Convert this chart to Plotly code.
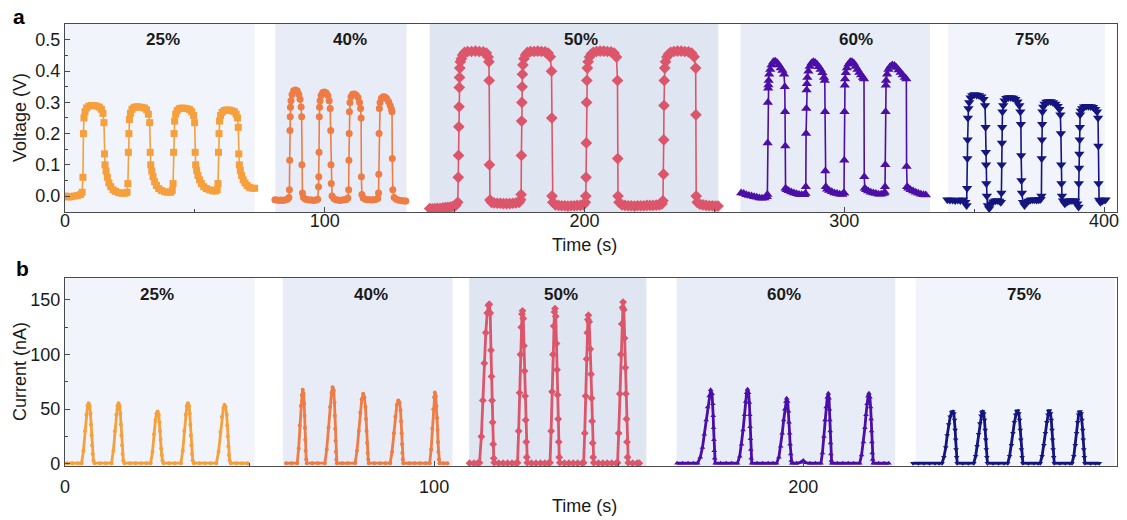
import plotly.graph_objects as go

# ---------------- conditions and styling ----------------
CONDITIONS = ["25%", "40%", "50%", "60%", "75%"]
COLORS = ["#F5A03C", "#EE7C45", "#DC566B", "#4B0FA7", "#15157F"]
SYMBOLS = ["square", "circle", "diamond", "triangle-up", "triangle-down"]
BAND_FILL = ["#F1F4FA", "#E8ECF6", "#DFE5F1", "#E8ECF6", "#F1F4FA"]

# time windows (s) of each humidity condition
V_BANDS = [(0, 73), (81, 131.5), (140.4, 251.5), (260, 333), (340, 400.4)]
I_BANDS = [(0, 51.4), (59, 105), (109.5, 157.5), (165.7, 224.9), (230.5, 284.3)]
V_LABEL_T = [37.7, 109.6, 198.8, 304.6, 372.3]
I_LABEL_T = [24.8, 82.9, 134.5, 194.9, 259.7]

# ---------------- (a) output voltage, (t [s], V [V]) ----------------
VOLT_25 = [
    (0, 0.0), (1.2, -0.003), (2.4, -0.002), (3.6, 0.0), (4.8, 0.002), (6.0, 0.005), (6.6, 0.012),
    (6.9, 0.06), (7.1, 0.20), (7.3, 0.25), (7.7, 0.27), (8.3, 0.282), (9.2, 0.288), (10.2, 0.29),
    (11.2, 0.29), (12.2, 0.288), (13.2, 0.285), (14.0, 0.278), (14.6, 0.265),
    (15.0, 0.235), (15.2, 0.135), (15.4, 0.10), (15.8, 0.08), (16.3, 0.06), (16.9, 0.042),
    (17.6, 0.03), (18.5, 0.02), (19.5, 0.015), (20.7, 0.011), (21.9, 0.009), (23.1, 0.009), (23.9, 0.012),
    (24.2, 0.04), (24.4, 0.14), (24.6, 0.20), (24.8, 0.245), (25.2, 0.265), (25.8, 0.278), (26.6, 0.284),
    (27.6, 0.286), (28.6, 0.285), (29.6, 0.284), (30.6, 0.282), (31.4, 0.276), (32.1, 0.262),
    (32.6, 0.235), (32.8, 0.14), (33.0, 0.10), (33.4, 0.08), (33.9, 0.062), (34.5, 0.046),
    (35.2, 0.034), (36.1, 0.024), (37.1, 0.018), (38.3, 0.014), (39.5, 0.012), (40.7, 0.012), (41.3, 0.018),
    (41.6, 0.04), (41.8, 0.14), (42.0, 0.20), (42.2, 0.24), (42.6, 0.262), (43.2, 0.274), (44.0, 0.28),
    (45.0, 0.282), (46.0, 0.281), (47.0, 0.28), (48.0, 0.277), (48.8, 0.27), (49.5, 0.258),
    (49.9, 0.235), (50.1, 0.14), (50.3, 0.10), (50.7, 0.082), (51.2, 0.066), (51.8, 0.052),
    (52.5, 0.04), (53.4, 0.03), (54.4, 0.024), (55.6, 0.02), (56.8, 0.017), (57.9, 0.016), (58.6, 0.02),
    (58.9, 0.04), (59.1, 0.14), (59.3, 0.20), (59.5, 0.24), (59.9, 0.258), (60.5, 0.268), (61.3, 0.274),
    (62.3, 0.276), (63.3, 0.275), (64.3, 0.273), (65.2, 0.27), (65.9, 0.262), (66.4, 0.25),
    (66.7, 0.22), (66.9, 0.135), (67.1, 0.10), (67.5, 0.082), (68.0, 0.066), (68.6, 0.052),
    (69.3, 0.042), (70.1, 0.034), (71.0, 0.028), (72.0, 0.025), (73.0, 0.025),
]

VOLT_40 = [
    (80.8, -0.012), (81.6, -0.013), (82.4, -0.014), (83.2, -0.013), (84.0, -0.014), (84.8, -0.012),
    (85.6, -0.01), (86.2, -0.005),
    (86.4, 0.02), (86.5, 0.115), (86.6, 0.21), (86.7, 0.254), (86.8, 0.284), (87.0, 0.305), (87.4, 0.325),
    (88.0, 0.337), (88.7, 0.34), (89.4, 0.337), (90.0, 0.326), (90.5, 0.31), (90.9, 0.285),
    (91.1, 0.254), (91.2, 0.10), (91.4, 0.01), (91.8, -0.005), (92.6, -0.01), (93.4, -0.012),
    (94.2, -0.013), (95.0, -0.013), (95.8, -0.014), (96.6, -0.013), (97.3, -0.01),
    (97.6, 0.03), (97.7, 0.062), (97.8, 0.14), (97.9, 0.254), (98.0, 0.284), (98.2, 0.305), (98.6, 0.322),
    (99.2, 0.332), (99.9, 0.333), (100.6, 0.33), (101.2, 0.322), (101.7, 0.305), (102.1, 0.28),
    (102.3, 0.21), (102.4, 0.10), (102.5, 0.04), (102.8, 0.0), (103.5, -0.008), (104.3, -0.012),
    (105.1, -0.013), (105.9, -0.014), (106.7, -0.013), (107.5, -0.012), (108.3, -0.011), (108.9, -0.006),
    (109.2, 0.02), (109.3, 0.115), (109.4, 0.2), (109.5, 0.27), (109.7, 0.3), (110.1, 0.318),
    (110.7, 0.326), (111.4, 0.327), (112.1, 0.324), (112.8, 0.316), (113.4, 0.3), (113.8, 0.28),
    (114.0, 0.25), (114.1, 0.062), (114.3, 0.005), (114.8, -0.006), (115.6, -0.01), (116.4, -0.012),
    (117.2, -0.012), (118.0, -0.013), (118.8, -0.012), (119.6, -0.011), (120.4, -0.008),
    (120.7, 0.01), (120.8, 0.07), (120.9, 0.2), (121.0, 0.28), (121.3, 0.3), (121.8, 0.313),
    (122.5, 0.318), (123.2, 0.317), (123.9, 0.312), (124.6, 0.302), (125.2, 0.29), (125.7, 0.278),
    (125.9, 0.27), (126.0, 0.12), (126.2, 0.02), (126.7, -0.005), (127.5, -0.01), (128.3, -0.013),
    (129.1, -0.014), (129.9, -0.015), (130.7, -0.016), (131.2, -0.016),
]

VOLT_50 = [
    (140.4, -0.04), (141.4, -0.041), (142.4, -0.04), (143.4, -0.039), (144.4, -0.04), (145.4, -0.038),
    (146.4, -0.037), (147.4, -0.036), (148.4, -0.035), (149.4, -0.033), (150.4, -0.03), (151.2, -0.02),
    (151.4, 0.06), (151.5, 0.13), (151.6, 0.222), (151.7, 0.286), (151.8, 0.348), (151.9, 0.38),
    (152.0, 0.41), (152.2, 0.43), (152.6, 0.44), (153.1, 0.452), (153.8, 0.46), (155.0, 0.463),
    (156.5, 0.463), (158.0, 0.464), (159.5, 0.463), (161.0, 0.462), (162.2, 0.458), (162.9, 0.445),
    (163.2, 0.43), (163.3, 0.37), (163.4, 0.10), (163.6, -0.013), (164.2, -0.02), (165.2, -0.022),
    (166.4, -0.023), (167.6, -0.023), (168.8, -0.024), (170.0, -0.024), (171.2, -0.024), (172.4, -0.023),
    (173.6, -0.022), (174.8, -0.02), (175.4, -0.012),
    (175.6, 0.005), (175.7, 0.13), (175.8, 0.24), (175.9, 0.3), (176.0, 0.35), (176.1, 0.39),
    (176.3, 0.42), (176.7, 0.44), (177.3, 0.452), (178.0, 0.46), (179.2, 0.463), (180.6, 0.463),
    (182.0, 0.464), (183.4, 0.463), (184.8, 0.462), (186.0, 0.458), (186.8, 0.446),
    (187.3, 0.40), (187.4, 0.25), (187.5, 0.0), (187.8, -0.02), (188.8, -0.028), (190.0, -0.03),
    (191.2, -0.031), (192.4, -0.031), (193.6, -0.032), (194.8, -0.031), (196.0, -0.031), (197.2, -0.03),
    (198.4, -0.03), (199.6, -0.028), (200.3, -0.02),
    (200.5, 0.0), (200.6, 0.06), (200.7, 0.17), (200.8, 0.3), (200.9, 0.37), (201.1, 0.41),
    (201.4, 0.43), (201.9, 0.445), (202.6, 0.455), (203.4, 0.46), (204.6, 0.463), (206.0, 0.464),
    (207.4, 0.464), (208.8, 0.463), (210.2, 0.462), (211.4, 0.458), (212.3, 0.445),
    (212.7, 0.37), (212.8, 0.12), (212.9, 0.0), (213.3, -0.02), (214.4, -0.028), (215.6, -0.03),
    (216.8, -0.031), (218.0, -0.031), (219.2, -0.032), (220.4, -0.031), (221.6, -0.031), (222.8, -0.031),
    (224.0, -0.03), (225.2, -0.03), (226.4, -0.03), (227.6, -0.029), (228.8, -0.028), (229.8, -0.025),
    (230.2, -0.015),
    (230.4, 0.07), (230.5, 0.18), (230.6, 0.29), (230.7, 0.37), (230.9, 0.41), (231.2, 0.43),
    (231.7, 0.445), (232.4, 0.455), (233.2, 0.46), (234.4, 0.463), (235.8, 0.464), (237.2, 0.464),
    (238.6, 0.463), (240.0, 0.462), (241.2, 0.458), (242.2, 0.446),
    (242.8, 0.41), (242.9, 0.26), (243.0, 0.0), (243.4, -0.02), (244.4, -0.026), (245.6, -0.028),
    (246.8, -0.03), (248.0, -0.031), (249.2, -0.031), (250.4, -0.032), (251.4, -0.032),
]

VOLT_60 = [
    (260.3, 0.01), (261.3, 0.008), (262.3, 0.004), (263.3, 0.002), (264.3, 0.0), (265.3, -0.002),
    (266.3, -0.004), (267.3, -0.006), (268.3, -0.007), (269.3, -0.006), (270.2, -0.002),
    (270.4, 0.005), (270.5, 0.17), (270.6, 0.30), (270.7, 0.345), (270.8, 0.356), (270.9, 0.37),
    (271.1, 0.39), (271.5, 0.405), (272.0, 0.42), (272.7, 0.43), (273.4, 0.432), (274.1, 0.428),
    (274.8, 0.42), (275.5, 0.41), (276.2, 0.402), (276.8, 0.39),
    (277.1, 0.35), (277.2, 0.27), (277.3, 0.16), (277.4, 0.025), (277.8, 0.02), (278.6, 0.017),
    (279.6, 0.013), (280.6, 0.01), (281.6, 0.007), (282.6, 0.005), (283.6, 0.004), (284.6, 0.004),
    (285.1, 0.008),
    (285.2, 0.03), (285.3, 0.2), (285.4, 0.28), (285.5, 0.34), (285.6, 0.36), (285.8, 0.38),
    (286.2, 0.4), (286.7, 0.415), (287.4, 0.426), (288.1, 0.43), (288.8, 0.428), (289.5, 0.422),
    (290.2, 0.414), (290.9, 0.405), (291.6, 0.395), (292.2, 0.38),
    (292.5, 0.37), (292.6, 0.27), (292.7, 0.08), (292.9, 0.03), (293.4, 0.022), (294.2, 0.018),
    (295.2, 0.014), (296.2, 0.01), (297.2, 0.008), (298.2, 0.006), (299.2, 0.005), (299.8, 0.01),
    (299.9, 0.01), (300.0, 0.115), (300.1, 0.27), (300.2, 0.355), (300.3, 0.375), (300.6, 0.395),
    (301.0, 0.41), (301.6, 0.422), (302.3, 0.43), (303.0, 0.43), (303.7, 0.425), (304.4, 0.415),
    (305.1, 0.405), (305.8, 0.396), (306.5, 0.388), (307.2, 0.38),
    (307.6, 0.375), (307.7, 0.062), (307.9, 0.025), (308.4, 0.02), (309.2, 0.016), (310.2, 0.012),
    (311.2, 0.01), (312.2, 0.008), (313.2, 0.006), (314.2, 0.006), (315.2, 0.008), (315.6, 0.012),
    (315.7, 0.03), (315.8, 0.1), (315.9, 0.27), (316.0, 0.355), (316.1, 0.37), (316.5, 0.39),
    (317.0, 0.405), (317.7, 0.415), (318.5, 0.42), (319.3, 0.418), (320.1, 0.412), (320.9, 0.404),
    (321.7, 0.396), (322.5, 0.388), (323.3, 0.38),
    (323.9, 0.375), (324.0, 0.095), (324.2, 0.03), (324.7, 0.025), (325.5, 0.02), (326.5, 0.016),
    (327.5, 0.012), (328.5, 0.009), (329.5, 0.006), (330.5, 0.004), (331.4, 0.003),
]

VOLT_75 = [
    (339.7, -0.012), (340.7, -0.013), (341.7, -0.013), (342.7, -0.014), (343.7, -0.013), (344.7, -0.014),
    (345.7, -0.012), (346.6, -0.02), (347.1, -0.03),
    (347.3, 0.025), (347.4, 0.12), (347.5, 0.18), (347.6, 0.25), (347.8, 0.28), (348.1, 0.3),
    (348.6, 0.315), (349.3, 0.322), (350.1, 0.325), (351.0, 0.324), (351.9, 0.322), (352.8, 0.318),
    (353.6, 0.31), (354.2, 0.29),
    (354.4, 0.22), (354.5, 0.14), (354.6, 0.10), (354.7, 0.04), (354.9, 0.0), (355.3, -0.03),
    (355.8, -0.04), (356.5, -0.025), (357.3, -0.018), (358.1, -0.015), (358.9, -0.014), (359.7, -0.016),
    (360.3, -0.02),
    (360.5, 0.01), (360.6, 0.10), (360.7, 0.17), (360.8, 0.22), (360.9, 0.27), (361.2, 0.29),
    (361.7, 0.305), (362.4, 0.313), (363.2, 0.316), (364.1, 0.316), (365.0, 0.314), (365.9, 0.31),
    (366.7, 0.302), (367.4, 0.29), (367.8, 0.27),
    (368.0, 0.23), (368.1, 0.13), (368.2, 0.05), (368.4, 0.01), (368.8, -0.02), (369.4, -0.03),
    (370.1, -0.022), (370.9, -0.016), (371.7, -0.013), (372.5, -0.012), (373.3, -0.012), (374.1, -0.013),
    (374.9, -0.012), (375.6, -0.01),
    (375.9, 0.0), (376.0, 0.12), (376.1, 0.18), (376.2, 0.23), (376.3, 0.27), (376.6, 0.285),
    (377.1, 0.295), (377.8, 0.301), (378.6, 0.303), (379.5, 0.303), (380.4, 0.3), (381.3, 0.295),
    (382.1, 0.288), (382.8, 0.278), (383.2, 0.26),
    (383.4, 0.2), (383.5, 0.1), (383.6, 0.04), (383.8, 0.0), (384.2, -0.015), (384.9, -0.025),
    (385.7, -0.02), (386.5, -0.016), (387.3, -0.014), (388.1, -0.014), (388.9, -0.016), (389.7, -0.025),
    (390.2, -0.035),
    (390.3, 0.04), (390.4, 0.09), (390.5, 0.135), (390.6, 0.18), (390.7, 0.22), (390.8, 0.26),
    (391.1, 0.272), (391.6, 0.28), (392.3, 0.286), (393.1, 0.288), (394.0, 0.288), (394.9, 0.287),
    (395.8, 0.284), (396.6, 0.278), (397.3, 0.27),
    (397.7, 0.25), (397.8, 0.16), (397.9, 0.04), (398.1, -0.013), (398.6, -0.02), (399.3, -0.016),
    (400.0, -0.013), (400.6, -0.012),
]

# ---------------- (b) output current, (t [s], I [nA]) ----------------
CURR_25 = [
    (0.5, 0.5), (2.0, 0.5), (3.5, 0.5),
    (4.5, 0.6), (5.0, 12), (5.4, 30), (5.8, 45), (6.1, 53), (6.4, 55.5), (6.7, 53), (6.9, 46),
    (7.05, 36), (7.2, 26), (7.35, 17), (7.5, 9), (7.7, 3), (8.0, 0.6),
    (9.5, 0.5), (11.0, 0.5),
    (12.6, 0.6), (13.1, 12), (13.5, 30), (13.9, 45), (14.2, 53), (14.5, 55.5), (14.8, 53), (15.0, 46),
    (15.15, 36), (15.3, 26), (15.45, 17), (15.6, 9), (15.8, 3), (16.1, 0.6),
    (17.6, 0.5), (19.1, 0.5), (20.6, 0.5), (22.1, 0.5),
    (23.2, 0.6), (23.7, 11), (24.1, 27), (24.5, 40), (24.8, 46), (25.1, 47.9), (25.4, 45), (25.6, 38),
    (25.75, 30), (25.9, 22), (26.05, 14), (26.2, 8), (26.4, 3), (26.7, 0.6),
    (28.2, 0.5), (29.7, 0.5),
    (31.4, 0.6), (31.9, 12), (32.3, 30), (32.7, 45), (33.0, 53), (33.3, 55.5), (33.6, 53), (33.8, 46),
    (33.95, 36), (34.1, 26), (34.25, 17), (34.4, 9), (34.6, 3), (34.9, 0.6),
    (36.4, 0.5), (37.9, 0.5), (39.4, 0.5),
    (41.0, 0.6), (41.6, 11), (42.1, 29), (42.5, 43), (42.9, 51), (43.2, 54), (43.5, 52), (43.8, 45),
    (43.95, 35), (44.1, 25), (44.25, 16), (44.4, 8), (44.6, 3), (44.9, 0.6),
    (46.4, 0.5), (47.9, 0.5), (49.5, 0.5),
]

CURR_40 = [
    (59.9, 0.5), (61.4, 0.5),
    (62.9, 0.6), (63.3, 14), (63.6, 35), (63.9, 53), (64.2, 63), (64.4, 67.7), (64.65, 64), (64.8, 55),
    (64.9, 44), (65.0, 33), (65.1, 22), (65.2, 12), (65.35, 4), (65.5, 0.6),
    (67.0, 0.5), (68.5, 0.5),
    (70.4, 0.6), (70.9, 13), (71.4, 33), (71.8, 52), (72.2, 65), (72.5, 70), (72.8, 67), (73.0, 56),
    (73.1, 44), (73.2, 32), (73.3, 21), (73.4, 11), (73.5, 4), (73.65, 0.6),
    (75.1, 0.5), (76.6, 0.5),
    (78.6, 0.6), (79.1, 12), (79.6, 30), (80.0, 47), (80.4, 59), (80.8, 64), (81.1, 61), (81.4, 52),
    (81.55, 41), (81.7, 30), (81.85, 19), (82.0, 10), (82.15, 4), (82.3, 0.6),
    (83.8, 0.5), (85.3, 0.5), (86.8, 0.5),
    (88.1, 0.6), (88.6, 11), (89.1, 28), (89.5, 43), (89.9, 54), (90.3, 57.9), (90.65, 56), (90.9, 49),
    (91.05, 39), (91.2, 28), (91.3, 18), (91.4, 10), (91.5, 4), (91.65, 0.6),
    (93.2, 0.5), (94.7, 0.5), (96.2, 0.5), (97.7, 0.5),
    (98.8, 0.6), (99.2, 13), (99.5, 32), (99.8, 50), (100.0, 61), (100.2, 65.2), (100.45, 62),
    (100.65, 53), (100.8, 42), (100.95, 31), (101.05, 20), (101.15, 11), (101.3, 4), (101.45, 0.6),
    (102.5, 0.5), (103.6, 0.5),
]

CURR_50 = [
    (109.6, 0.5), (110.8, 0.5), (111.8, 0.6),
    (112.3, 1), (112.8, 25), (113.2, 58), (113.6, 92), (114.0, 120), (114.4, 138), (114.7, 145),
    (114.95, 146), (115.2, 138), (115.4, 104), (115.55, 80), (115.7, 58), (115.85, 38), (116.0, 18),
    (116.15, 5), (116.3, 1),
    (117.5, 0.5), (118.7, 0.5), (119.9, 0.5), (121.1, 0.5), (122.2, 0.6),
    (122.6, 1), (122.9, 30), (123.15, 65), (123.4, 100), (123.6, 125), (123.8, 137), (123.95, 140),
    (124.15, 133), (124.35, 108), (124.5, 85), (124.65, 62), (124.8, 40), (124.95, 20), (125.1, 6),
    (125.25, 1),
    (126.4, 0.5), (127.6, 0.5), (128.8, 0.5), (130.0, 0.5), (131.0, 0.6),
    (131.4, 1), (131.7, 30), (131.95, 66), (132.2, 100), (132.4, 126), (132.6, 139), (132.75, 142),
    (132.95, 135), (133.15, 110), (133.3, 86), (133.45, 63), (133.6, 41), (133.75, 20), (133.9, 6),
    (134.05, 1),
    (135.3, 0.5), (136.5, 0.5), (137.7, 0.5), (138.9, 0.5), (140.1, 0.6),
    (140.5, 1), (140.8, 28), (141.05, 62), (141.3, 96), (141.5, 120), (141.65, 132), (141.8, 136),
    (142.0, 130), (142.3, 105), (142.5, 82), (142.65, 60), (142.8, 39), (142.95, 19), (143.1, 6),
    (143.25, 1),
    (144.5, 0.5), (145.7, 0.5), (146.9, 0.5), (148.1, 0.5), (149.3, 0.6),
    (149.7, 1), (150.0, 28), (150.3, 64), (150.6, 100), (150.85, 128), (151.05, 143), (151.2, 148),
    (151.4, 141), (151.6, 115), (151.8, 88), (151.95, 64), (152.1, 41), (152.25, 20), (152.4, 6),
    (152.6, 1),
    (153.8, 0.5), (155.0, 0.5), (155.6, 0.5),
]

CURR_60 = [
    (165.8, 0.5), (167.3, 0.5), (168.8, 0.5), (170.3, 0.5),
    (171.4, 0.6), (172.1, 6), (172.7, 15), (173.2, 27), (173.7, 40), (174.1, 52), (174.5, 62),
    (174.9, 67.7), (175.3, 64), (175.5, 55), (175.6, 44), (175.7, 33), (175.8, 22), (175.9, 12),
    (176.0, 5), (176.15, 0.6),
    (177.6, 0.5), (179.1, 0.5), (180.6, 0.5),
    (182.2, 0.6), (182.8, 7), (183.3, 18), (183.7, 31), (184.1, 45), (184.4, 57), (184.65, 65),
    (184.9, 68.3), (185.2, 65), (185.4, 56), (185.5, 45), (185.6, 34), (185.7, 23), (185.8, 13),
    (185.9, 5), (186.05, 0.6),
    (187.5, 0.5), (189.0, 0.5), (190.5, 0.5), (191.8, 0.5),
    (192.8, 0.6), (193.4, 6), (193.9, 16), (194.3, 28), (194.7, 40), (195.0, 50), (195.3, 57),
    (195.5, 60), (195.8, 57), (196.0, 48), (196.15, 38), (196.3, 28), (196.45, 18), (196.6, 9),
    (196.75, 3), (196.9, 0.6),
    (198.2, 0.5), (199.4, 1.5), (200.0, 3), (200.6, 1), (201.8, 0.5), (203.3, 0.5),
    (204.8, 0.6), (205.2, 10), (205.6, 25), (205.9, 40), (206.2, 52), (206.5, 61), (206.8, 64.6),
    (207.0, 60), (207.1, 50), (207.2, 40), (207.3, 30), (207.4, 19), (207.5, 9), (207.6, 3),
    (207.7, 0.6),
    (209.2, 0.5), (210.7, 0.5), (212.2, 0.5), (213.7, 0.5),
    (215.3, 0.6), (215.8, 8), (216.3, 20), (216.7, 33), (217.0, 45), (217.3, 55), (217.55, 62),
    (217.8, 64.6), (218.05, 61), (218.25, 52), (218.4, 41), (218.5, 30), (218.6, 20), (218.7, 10),
    (218.8, 4), (218.95, 0.6),
    (220.4, 0.5), (221.9, 0.5), (223.2, 0.5),
]

CURR_75 = [
    (229.7, 0.5), (231.2, 0.5), (232.7, 0.5), (234.2, 0.5), (235.7, 0.5), (236.8, 0.5),
    (237.6, 0.6), (238.1, 6), (238.6, 15), (239.0, 26), (239.4, 36), (239.8, 43), (240.2, 47),
    (240.5, 47.9), (240.8, 46), (241.0, 40), (241.15, 31), (241.3, 22), (241.4, 13), (241.55, 6),
    (241.7, 0.6),
    (243.2, 0.5), (244.7, 0.5),
    (246.2, 0.6), (246.7, 7), (247.1, 16), (247.5, 27), (247.85, 37), (248.15, 44), (248.4, 47),
    (248.6, 47.9), (248.9, 46), (249.1, 40), (249.3, 31), (249.45, 22), (249.6, 13), (249.75, 6),
    (249.9, 0.6),
    (251.4, 0.5), (252.9, 0.5), (254.4, 0.5),
    (255.4, 0.6), (255.9, 7), (256.4, 17), (256.8, 28), (257.2, 38), (257.55, 45), (257.85, 48),
    (258.1, 48.5), (258.4, 46), (258.6, 40), (258.8, 31), (258.95, 22), (259.1, 13), (259.3, 6),
    (259.5, 0.6),
    (261.0, 0.5), (262.5, 0.5), (263.6, 0.5),
    (264.2, 0.6), (264.7, 7), (265.2, 17), (265.6, 28), (266.0, 38), (266.3, 45), (266.5, 48),
    (266.7, 48.8), (267.0, 46), (267.2, 40), (267.4, 31), (267.55, 22), (267.7, 13), (267.85, 6),
    (268.0, 0.6),
    (269.5, 0.5), (271.0, 0.5), (272.2, 0.5),
    (272.8, 0.6), (273.3, 7), (273.7, 17), (274.05, 28), (274.35, 38), (274.6, 45), (274.8, 47),
    (275.0, 47.9), (275.3, 46), (275.5, 40), (275.7, 31), (275.85, 22), (276.0, 13), (276.15, 6),
    (276.3, 0.6),
    (277.8, 0.5), (279.2, 0.5), (280.2, 0.5),
]

VOLT_SERIES = [VOLT_25, VOLT_40, VOLT_50, VOLT_60, VOLT_75]
CURR_SERIES = [CURR_25, CURR_40, CURR_50, CURR_60, CURR_75]

# ---------------- figure ----------------
FONT = "Liberation Sans, Arial, Helvetica, sans-serif"
AXIS_COLOR = "#4a4a4a"
TEXT_COLOR = "#1a1a1a"

fig = go.Figure()

V_MARKER_SIZE = [7, 7, 9, 9, 9]
I_MARKER_SIZE = [4, 4, 6, 5, 5]

for k, pts in enumerate(VOLT_SERIES):
    t, v = zip(*pts)
    fig.add_trace(go.Scatter(
        x=t, y=v, mode="lines+markers", xaxis="x", yaxis="y",
        line=dict(color=COLORS[k], width=1.6),
        marker=dict(symbol=SYMBOLS[k], size=V_MARKER_SIZE[k], color=COLORS[k], line=dict(width=0)),
        name=CONDITIONS[k], showlegend=False,
    ))

for k, pts in enumerate(CURR_SERIES):
    t, c = zip(*pts)
    fig.add_trace(go.Scatter(
        x=t, y=c, mode="lines+markers", xaxis="x2", yaxis="y2",
        line=dict(color=COLORS[k], width=2.8),
        marker=dict(symbol=SYMBOLS[k] if k >= 2 else "circle", size=I_MARKER_SIZE[k],
                    color=COLORS[k], line=dict(width=0)),
        name=CONDITIONS[k], showlegend=False,
    ))


def text_note(x, y, text, size, xref="paper", yref="paper", angle=0, color=TEXT_COLOR):
    return dict(x=x, y=y, xref=xref, yref=yref, text=text, textangle=angle, showarrow=False,
                xanchor="center", yanchor="middle",
                font=dict(family=FONT, size=size, color=color))


shapes = []
annotations = []
for k in range(5):
    x0, x1 = V_BANDS[k]
    shapes.append(dict(type="rect", xref="x", yref="y domain", x0=x0, x1=x1, y0=0, y1=1,
                       fillcolor=BAND_FILL[k], line=dict(width=0), layer="below"))
    x0, x1 = I_BANDS[k]
    shapes.append(dict(type="rect", xref="x2", yref="y2 domain", x0=x0, x1=x1, y0=0, y1=1,
                       fillcolor=BAND_FILL[k], line=dict(width=0), layer="below"))
    annotations.append(text_note(V_LABEL_T[k], 0.966, f"<b>{CONDITIONS[k]}</b>", 17, xref="x"))
    annotations.append(text_note(I_LABEL_T[k], 0.387, f"<b>{CONDITIONS[k]}</b>", 17, xref="x2"))

# axis titles and panel letters
annotations += [
    text_note(0.4934, 0.5, "Time (s)", 18),
    text_note(0.4934, -0.09, "Time (s)", 18),
    text_note(-0.0427, 0.7873, "Voltage (V)", 18, angle=-90),
    text_note(-0.0427, 0.2127, "Current (nA)", 18, angle=-90),
    text_note(-0.0436, 1.018, "<b>a</b>", 21, color="#000000"),
    text_note(-0.040, 0.446, "<b>b</b>", 21, color="#000000"),
]

axis_common = dict(
    showline=True, linecolor=AXIS_COLOR, linewidth=1.3, mirror=True,
    ticks="inside", ticklen=5, tickwidth=1, tickcolor=AXIS_COLOR,
    showgrid=False, zeroline=False,
    tickfont=dict(family=FONT, size=18, color=TEXT_COLOR),
)

fig.update_layout(
    width=1127, height=520,
    margin=dict(l=65, r=8, t=24, b=54),
    paper_bgcolor="white", plot_bgcolor="white",
    shapes=shapes, annotations=annotations,
    xaxis=dict(domain=[0, 1], anchor="y", range=[0, 405], dtick=100, tick0=0, ticklabelstandoff=-8,
               minor=dict(ticks="inside", ticklen=3, dtick=50, tickcolor=AXIS_COLOR), **axis_common),
    yaxis=dict(domain=[0.5747, 1.0], anchor="x", range=[-0.051, 0.551], dtick=0.1, tick0=0,
               tickformat=".1f",
               minor=dict(ticks="inside", ticklen=3, dtick=0.05, tickcolor=AXIS_COLOR), **axis_common),
    xaxis2=dict(domain=[0, 1], anchor="y2", range=[0, 285], dtick=100, tick0=0, ticklabelstandoff=4,
                minor=dict(ticks="inside", ticklen=3, dtick=50, tickcolor=AXIS_COLOR), **axis_common),
    yaxis2=dict(domain=[0.0, 0.4253], anchor="x2", range=[-2, 170], dtick=50, tick0=0,
                minor=dict(ticks="inside", ticklen=3, dtick=25, tickcolor=AXIS_COLOR), **axis_common),
)

fig.write_html("out.html")
